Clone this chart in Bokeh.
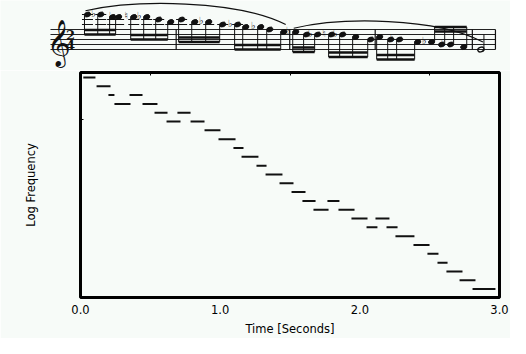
import math
from bokeh.plotting import figure
from bokeh.models import Range1d, FixedTicker, LinearAxis, PrintfTickFormatter, CustomJSTickFormatter
from bokeh.embed import file_html
from bokeh.resources import INLINE
from bokeh.core.properties import value

BG = "#f7fbf8"
INK = "#111111"
FONT = "DejaVu Sans"

# ---------------- data ----------------
note_on = [0.020, 0.115, 0.200, 0.243, 0.351, 0.444, 0.530, 0.616, 0.694, 0.788,
           0.888, 0.988, 1.095, 1.153, 1.260, 1.325, 1.425, 1.511, 1.589, 1.668,
           1.768, 1.847, 1.940, 2.048, 2.112, 2.191, 2.255, 2.384, 2.484, 2.556,
           2.620, 2.714, 2.807]
note_off = [0.107, 0.215, 0.243, 0.358, 0.444, 0.551, 0.623, 0.716, 0.788, 0.888,
            1.002, 1.110, 1.167, 1.274, 1.332, 1.446, 1.525, 1.611, 1.683, 1.776,
            1.854, 1.962, 2.055, 2.126, 2.212, 2.270, 2.391, 2.499, 2.563, 2.628,
            2.735, 2.828, 2.971]
note_hz = [1318.5, 1244.5, 1174.7, 1108.7, 1174.7, 1108.7, 1046.5, 987.8, 1046.5, 987.8,
           932.3, 880.0, 830.6, 784.0, 740.0, 698.5, 659.3, 622.3, 587.3, 554.4,
           587.3, 554.4, 523.3, 493.9, 523.3, 493.9, 466.2, 440.0, 415.3, 392.0,
           370.0, 349.2, 329.6]
measure_sizes = [8, 9, 7, 8, 1]
beam_groups = [[4, 4], [4, 5], [3, 4], [4, 4], [1]]
slur_spans = [(0, 16), (17, 32)]
time_signature = ("2", "4")
x_ticks = [0, 1, 2, 3]
y_ticks = [1000]
top_ticks = [0.5, 1.5, 2.5]
x_label = "Time [Seconds]"
y_label = "Log Frequency"

# ---------------- layout ----------------
W = 510
FRAME_L, FRAME_R = 80, 11
SCORE_H, MAIN_H = 70, 268
T_END = 3.0
PX = (W - FRAME_L - FRAME_R) / T_END          # pixels per second

# ---------------- main plot ----------------
p = figure(width=W, height=MAIN_H, x_range=Range1d(0, T_END), y_range=Range1d(312, 1362),
           y_axis_type="log", output_backend="svg", toolbar_location=None,
           min_border_left=FRAME_L, min_border_right=FRAME_R, min_border_top=2,
           min_border_bottom=39, background_fill_color=BG, border_fill_color=BG)
p.grid.visible = False
p.outline_line_color = "black"
p.outline_line_width = 3

p.segment(x0=note_on, y0=note_hz, x1=note_off, y1=note_hz, line_color=INK, line_width=2)

xa = p.xaxis[0]
xa.ticker = FixedTicker(ticks=x_ticks)
xa.formatter = PrintfTickFormatter(format="%.1f")
xa.axis_line_color = None
xa.major_tick_out = 0
xa.major_tick_in = 0
xa.minor_tick_out = 0
xa.minor_tick_in = 0
xa.major_label_standoff = 7
xa.major_label_text_font = FONT
xa.major_label_text_font_size = "11.5px"
xa.major_label_text_color = "black"
xa.axis_label = x_label
xa.axis_label_text_font = FONT
xa.axis_label_text_font_size = "11.5px"
xa.axis_label_text_font_style = "normal"
xa.axis_label_text_color = "black"
xa.axis_label_standoff = 5

blank = CustomJSTickFormatter(code="return ''")

ya = p.yaxis[0]
ya.ticker = FixedTicker(ticks=y_ticks)
ya.formatter = blank
ya.axis_line_color = None
ya.major_tick_out = 0
ya.major_tick_in = 3
ya.major_tick_line_color = "black"
ya.minor_tick_out = 0
ya.minor_tick_in = 0
ya.major_label_standoff = 0
ya.axis_label = y_label
ya.axis_label_text_font = FONT
ya.axis_label_text_font_size = "11.5px"
ya.axis_label_text_font_style = "normal"
ya.axis_label_text_color = "black"
ya.axis_label_standoff = 43

top = LinearAxis(ticker=FixedTicker(ticks=top_ticks), formatter=blank, axis_line_color=None,
                 major_tick_in=3, major_tick_out=0, minor_tick_in=0, minor_tick_out=0,
                 major_tick_line_color="black", major_label_standoff=0)
p.add_layout(top, "above")

# ---------------- score ----------------
STEP_LO, STEP_HI = -8.4, 19.6
s = figure(width=W, height=SCORE_H,
           x_range=Range1d(-FRAME_L / PX, (W - FRAME_L) / PX),
           y_range=Range1d(STEP_LO, STEP_HI),
           output_backend="svg", toolbar_location=None,
           x_axis_location=None, y_axis_location=None, min_border=0,
           background_fill_color=BG, border_fill_color=BG, outline_line_color=None)
s.grid.visible = False

LETTER = [0, 1, 1, 2, 2, 3, 4, 4, 5, 5, 6, 6]
ACC = [0, -1, 0, -1, 0, 0, -1, 0, -1, 0, -1, 0]


def midi_of(hz):
    return int(round(69 + 12 * math.log2(hz / 440.0)))


def step_of(m):
    return (m // 12) * 7 + LETTER[m % 12] - 37   # 0 = E4, bottom staff line


midis = [midi_of(h) for h in note_hz]
steps = [step_of(m) for m in midis]
long_note = [(b - a) > 0.15 for a, b in zip(note_on, note_off)]
hx = [a + (0.06 if lg else 0.03) for a, lg in zip(note_on, long_note)]

staff_x0 = -0.215
final_bar = note_off[-1]
s.segment(x0=[staff_x0] * 5, y0=[0, 2, 4, 6, 8], x1=[final_bar] * 5, y1=[0, 2, 4, 6, 8],
          line_color="#222222", line_width=1)

# clef + time signature
s.text(x=[-0.154], y=[3.2], text=["\U0001D11E"], text_font=value(FONT),
       text_font_size=value("40px"), text_align="center", text_baseline="middle",
       text_color=INK)
s.text(x=[-0.072, -0.072], y=[6, 2], text=list(time_signature), text_font=value("DejaVu Serif"),
       text_font_size=value("13px"), text_font_style="bold", text_align="center",
       text_baseline="middle", text_color=INK)

stem_x0, stem_y0, stem_x1, stem_y1 = [], [], [], []
beam_x0, beam_y0, beam_x1, beam_y1 = [], [], [], []
acc_x, acc_y, acc_t = [], [], []
led_x0, led_x1, led_y = [], [], []
bar_x = []
filled_x, filled_y, open_x, open_y = [], [], [], []

idx = 0
for mi, n in enumerate(measure_sizes):
    members = list(range(idx, idx + n))
    state = {}
    for k in members:
        st, a = steps[k], ACC[midis[k] % 12]
        if state.get(st, 0) != a:
            acc_x.append(hx[k] - 7.5 / PX)
            acc_y.append(st + 0.5)
            acc_t.append("\u266d" if a < 0 else "\u266e")
        state[st] = a
        if st >= 10:
            for L in range(10, st + 1, 2):
                led_x0.append(hx[k] - 5.5 / PX); led_x1.append(hx[k] + 5.5 / PX); led_y.append(L)
        if long_note[k]:
            open_x.append(hx[k]); open_y.append(st)
        else:
            filled_x.append(hx[k]); filled_y.append(st)
    g0 = idx
    for gsize in beam_groups[mi]:
        grp = list(range(g0, g0 + gsize))
        gsteps = [steps[k] for k in grp]
        up = sum(gsteps) / len(gsteps) < 4
        if up:
            by = max(gsteps) + 6
            xs = [hx[k] + 3.0 / PX for k in grp]
        else:
            by = min(gsteps) - 7
            xs = [hx[k] - 3.0 / PX for k in grp]
        for k, x in zip(grp, xs):
            stem_x0.append(x); stem_x1.append(x)
            stem_y0.append(steps[k] + (0.4 if up else -0.4)); stem_y1.append(by)
        if gsize > 1:
            off = -1.8 if up else 1.8
            for yy in (by, by + off):
                beam_x0.append(xs[0]); beam_x1.append(xs[-1])
                beam_y0.append(yy); beam_y1.append(yy)
        g0 += gsize
    idx += n
    if idx < len(hx):
        bar_x.append((hx[idx - 1] + hx[idx]) / 2)
bar_x.append(final_bar)

s.segment(x0=led_x0, y0=led_y, x1=led_x1, y1=led_y, line_color=INK, line_width=1)
s.segment(x0=bar_x, y0=[0] * len(bar_x), x1=bar_x, y1=[8] * len(bar_x),
          line_color=INK, line_width=1.2)
s.segment(x0=stem_x0, y0=stem_y0, x1=stem_x1, y1=stem_y1, line_color=INK, line_width=1)
s.segment(x0=beam_x0, y0=beam_y0, x1=beam_x1, y1=beam_y1, line_color=INK, line_width=2.6)
s.ellipse(x=filled_x, y=filled_y, width=6.5, height=4.6, width_units="screen",
          height_units="screen", angle=0.35, fill_color=INK, line_color=INK)
s.ellipse(x=open_x, y=open_y, width=6.5, height=4.6, width_units="screen",
          height_units="screen", angle=0.35, fill_color=None, line_color=INK, line_width=1.4)
s.text(x=acc_x, y=acc_y, text=acc_t, text_font=value(FONT), text_font_size=value("10px"),
       text_align="center", text_baseline="middle", text_color=INK)

# slurs
for a, b in slur_spans:
    x0, y0 = hx[a] - 2 / PX, steps[a] + 1.5
    x1, y1 = hx[b] + 2 / PX, steps[b] + 3
    cy = max(y0, y1) + 4.5
    s.bezier(x0=[x0], y0=[y0], x1=[x1], y1=[y1],
             cx0=[x0 + (x1 - x0) * 0.25], cy0=[cy], cx1=[x0 + (x1 - x0) * 0.75], cy1=[cy],
             line_color=INK, line_width=1.2)

open("out.html", "w").write(file_html([s, p], INLINE))
